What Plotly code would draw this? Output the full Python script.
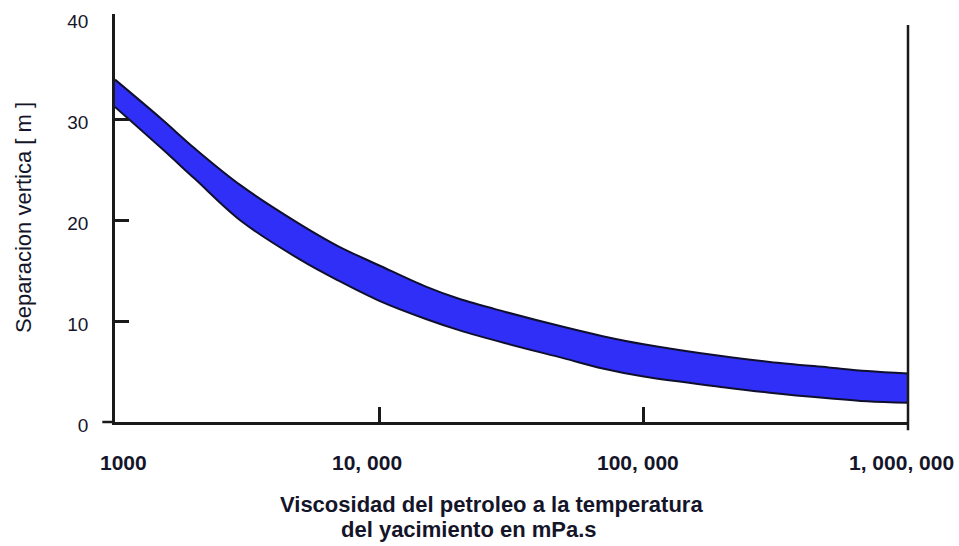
import math
import plotly.graph_objects as go

# ---- data ----
viscosity = [1000, 1500, 2000, 3000, 5000, 7000, 10000, 15000, 20000, 30000,
             50000, 70000, 100000, 200000, 300000, 500000, 700000, 1000000]
upper_sep = [33.9, 30.0, 27.1, 23.4, 19.6, 17.4, 15.5, 13.4, 12.2, 10.9,
             9.4, 8.5, 7.7, 6.5, 5.95, 5.4, 5.05, 4.8]
lower_sep = [31.2, 27.1, 24.1, 19.9, 16.1, 14.0, 12.0, 10.2, 9.1, 7.8,
             6.3, 5.3, 4.5, 3.45, 2.9, 2.35, 2.05, 1.9]

x_label_vals = [1000, 10000, 100000, 1000000]
x_label_text = ["1000", "10, 000", "100, 000", "1, 000, 000"]
x_label_shift = [8, -12, -6, -7]          # label offsets as drawn in the reference
x_tick_vals = [10000, 100000]
y_label_vals = [0, 10, 20, 30, 40]
y_tick_vals = [10, 20, 30]

x_title_1 = "Viscosidad del petroleo a la temperatura"
x_title_2 = "del yacimiento en mPa.s"
y_title = "Separacion vertica [ m ]"

BAND = "#2f2ff8"
EDGE = "#10102e"
AX = "#1a1a1a"
TXT = "#15152a"
FONT = "Liberation Sans, Arial, sans-serif"

fig = go.Figure()
fig.add_trace(go.Scatter(x=viscosity, y=lower_sep, mode="lines",
                         line=dict(color=EDGE, width=2, shape="spline", smoothing=1),
                         hoverinfo="skip", showlegend=False))
fig.add_trace(go.Scatter(x=viscosity, y=upper_sep, mode="lines",
                         line=dict(color=EDGE, width=2, shape="spline", smoothing=1),
                         fill="tonexty", fillcolor=BAND,
                         hoverinfo="skip", showlegend=False))

annotations = []
for v, t, s in zip(x_label_vals, x_label_text, x_label_shift):
    annotations.append(dict(text=t, xref="x", yref="paper", x=math.log10(v), y=0,
                            xanchor="center", yanchor="middle", xshift=s, yshift=-40,
                            showarrow=False,
                            font=dict(size=21, color=TXT, weight="bold")))
annotations += [
    dict(text=x_title_1, xref="paper", yref="paper", x=0.4754, y=-0.2022,
         xanchor="center", yanchor="middle", showarrow=False,
         font=dict(size=22, color=TXT, weight="bold")),
    dict(text=x_title_2, xref="paper", yref="paper", x=0.4464, y=-0.2623,
         xanchor="center", yanchor="middle", showarrow=False,
         font=dict(size=22, color=TXT, weight="bold")),
    dict(text=y_title, xref="paper", yref="paper", x=-0.116, y=0.5,
         xanchor="center", yanchor="middle", textangle=-90, showarrow=False,
         font=dict(size=22, color=TXT)),
]

fig.update_layout(
    width=959, height=546,
    margin=dict(l=115, r=51, t=14, b=124, autoexpand=False),
    paper_bgcolor="white", plot_bgcolor="white",
    font=dict(family=FONT, color=TXT),
    xaxis=dict(type="log", range=[3, 6], showgrid=False, zeroline=False,
               automargin=False,
               showline=True, linecolor=AX, linewidth=2.5,
               tickvals=x_label_vals, showticklabels=False, ticks="",
               minor=dict(tickvals=x_tick_vals, ticks="inside", ticklen=15,
                          tickwidth=2.5, tickcolor=AX, showgrid=False)),
    yaxis=dict(range=[0, 40.4], showgrid=False, zeroline=False,
               automargin=False, ticklabeloverflow="allow",
               showline=True, linecolor=AX, linewidth=2.5,
               tickvals=y_label_vals, ticks="", ticklabelstandoff=20,
               ticklabelshift=3,
               tickfont=dict(size=19, family="Liberation Sans, Arial", color=TXT),
               minor=dict(tickvals=y_tick_vals, ticks="inside", ticklen=14,
                          tickwidth=2.5, tickcolor=AX, showgrid=False)),
    shapes=[
        dict(type="line", xref="paper", yref="paper", x0=-0.016, x1=0, y0=0, y1=0,
             line=dict(color=AX, width=2.5)),
        dict(type="line", xref="paper", yref="paper", x0=1, x1=1, y0=-0.02, y1=0.973,
             line=dict(color=AX, width=2.5)),
    ],
    annotations=annotations,
)

# remove the browser's default 8px body margin so the figure fills the window exactly
fig.write_html("out.html", config={"displayModeBar": False},
               post_script="document.body.style.margin='0';")
